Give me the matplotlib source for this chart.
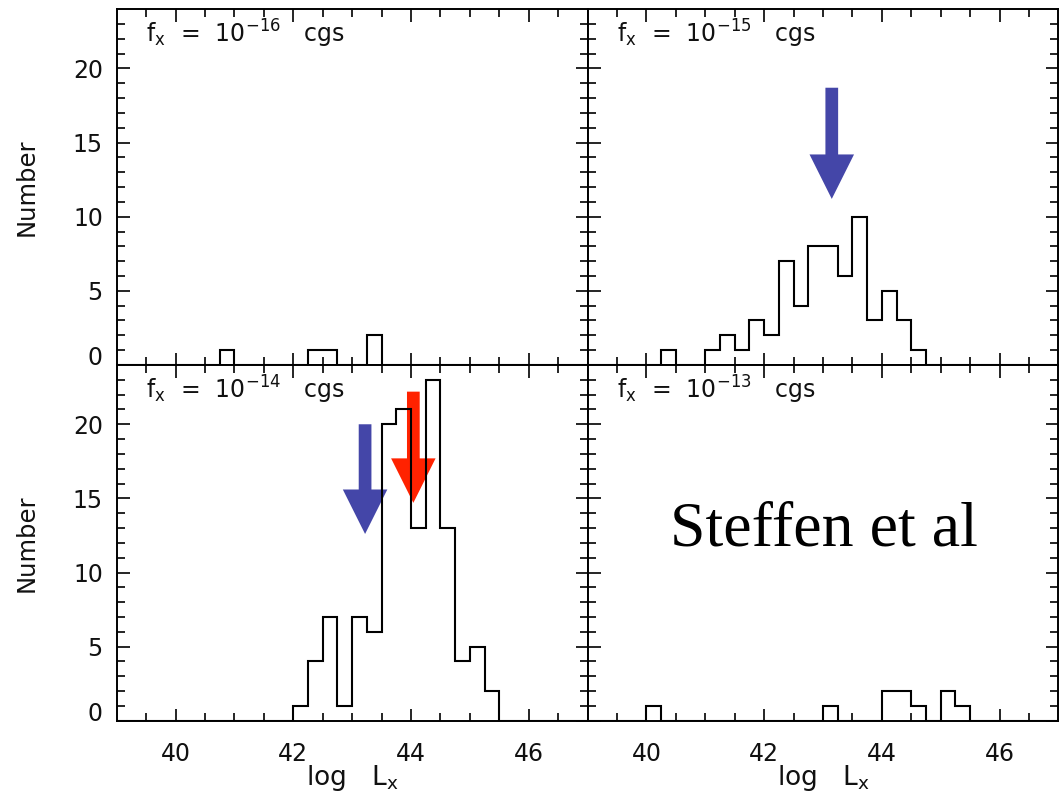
import numpy as np
import matplotlib
matplotlib.use("Agg")
import matplotlib.pyplot as plt
import matplotlib.patches as patches
from matplotlib.transforms import ScaledTranslation

plt.rcParams['font.family'] = ['DejaVu Sans']
plt.rcParams['mathtext.fontset'] = 'dejavusans'

# histogram bins: left edge of each non-empty bin (width 0.25) and its count
lx_16 = [40.75, 42.25, 42.5, 43.25]
n_16 = [1, 1, 1, 2]

lx_15 = [40.25, 41.0, 41.25, 41.5, 41.75, 42.0, 42.25, 42.5, 42.75, 43.0,
         43.25, 43.5, 43.75, 44.0, 44.25, 44.5]
n_15 = [1, 1, 2, 1, 3, 2, 7, 4, 8, 8, 6, 10, 3, 5, 3, 1]

lx_14 = [42.0, 42.25, 42.5, 42.75, 43.0, 43.25, 43.5, 43.75, 44.0, 44.25,
         44.5, 44.75, 45.0, 45.25]
n_14 = [1, 4, 7, 1, 7, 6, 20, 21, 13, 23, 13, 4, 5, 2]

lx_13 = [40.0, 43.0, 44.0, 44.25, 44.5, 45.0, 45.25]
n_13 = [1, 1, 2, 2, 1, 2, 1]

labels = [r'f$_{\rm x}$  =  10$^{-16}$   cgs', r'f$_{\rm x}$  =  10$^{-15}$   cgs',
          r'f$_{\rm x}$  =  10$^{-14}$   cgs', r'f$_{\rm x}$  =  10$^{-13}$   cgs']

# arrows: (panel, x, y start, y tip, colour)
arrows = [(1, 43.15, 18.7, 11.2, '#4446a8'),
          (2, 43.22, 20.0, 12.6, '#4446a8'),
          (2, 44.04, 22.2, 14.7, '#ff2200')]

binw = 0.25
xmin, xmax = 39, 47
edges = np.arange(xmin, xmax + binw / 2, binw)


def full_counts(lx, n):
    c = np.zeros(len(edges) - 1)
    idx = np.round((np.array(lx) - xmin) / binw).astype(int)
    c[idx] = n
    return c


fig = plt.figure(figsize=(10.64, 7.96), dpi=100)
W = 0.4425
H = 0.447
pos = [[0.1097, 0.5415, W, H], [0.1097 + W, 0.5415, W, H],
       [0.1097, 0.5415 - H, W, H], [0.1097 + W, 0.5415 - H, W, H]]
data = [(lx_16, n_16), (lx_15, n_15), (lx_14, n_14), (lx_13, n_13)]

axes = []
for i in range(4):
    ax = fig.add_axes(pos[i])
    axes.append(ax)
    ax.stairs(full_counts(*data[i]), edges, color='black', linewidth=1.5,
              zorder=3)
    ax.set_xlim(xmin, xmax)
    ax.set_ylim(0, 24)
    ax.set_xticks([40, 42, 44, 46])
    ax.set_xticks(np.arange(39.5, 47, 0.5), minor=True)
    ax.set_yticks([0, 5, 10, 15, 20])
    ax.set_yticks(np.arange(1, 24), minor=True)
    ax.tick_params(which='both', direction='in', top=True, right=True,
                   width=1.2, labelsize=17, color='black', labelcolor='#111111')
    ax.tick_params(which='major', length=9)
    ax.tick_params(which='minor', length=6)
    ax.tick_params(axis='y', pad=10)
    ax.tick_params(axis='x', pad=15)
    for s in ax.spines.values():
        s.set_linewidth(1.4)
    ax.text(0.063, 0.905, labels[i], transform=ax.transAxes, fontsize=17,
            ha='left', va='baseline', color='#111111')
    if i in (1, 3):
        ax.set_yticklabels([])
    else:
        ax.set_ylabel('Number', fontsize=17.5, color='#111111')
        ax.yaxis.set_label_coords(-0.165, 0.5)
        lab0 = ax.get_yticklabels()[0]
        lab0.set_transform(lab0.get_transform() +
                           ScaledTranslation(0, 0.09, fig.dpi_scale_trans))
    if i in (0, 1):
        ax.set_xticklabels([])
    else:
        ax.set_xlabel(r'log   L$_{\rm x}$', fontsize=19, color='#111111')
        ax.xaxis.set_label_coords(0.5, -0.118)

for p, x, y0, y1, col in arrows:
    arr = patches.FancyArrow(x, y0, 0, y1 - y0, width=0.216, head_width=0.756,
                             head_length=3.0, length_includes_head=True,
                             color=col, linewidth=0, zorder=2)
    axes[p].add_patch(arr)

fig.text(0.774, 0.334, 'Steffen et al', family='Liberation Serif',
         fontsize=46, ha='center', va='center', color='black')

fig.savefig('out.png', dpi=100)
